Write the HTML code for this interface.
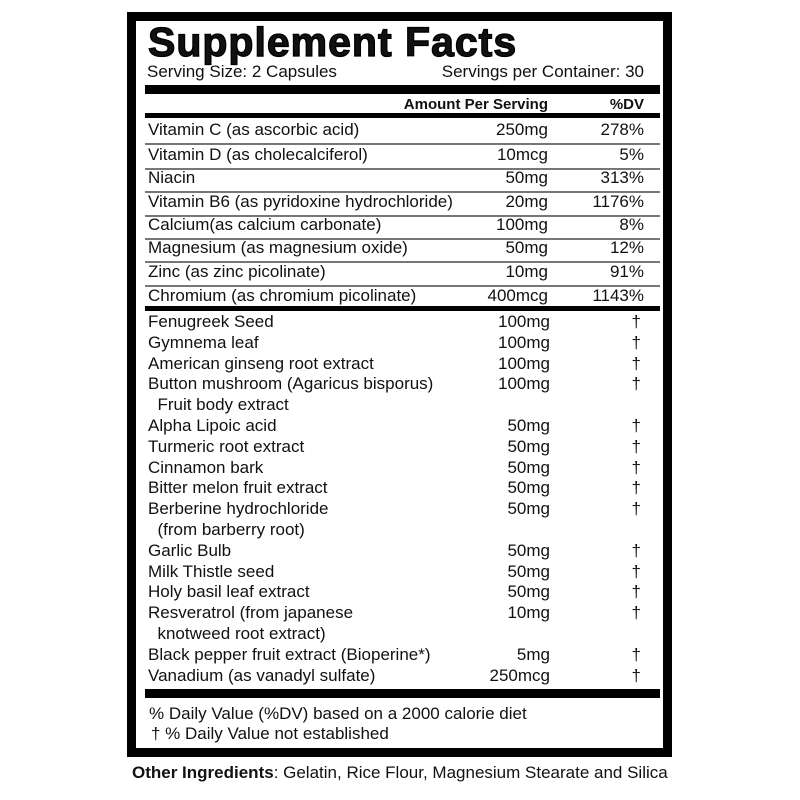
<!DOCTYPE html>
<html><head><meta charset="utf-8"><style>
body{margin:0;width:800px;height:800px;background:#fff;position:relative;overflow:hidden;font-family:"Liberation Sans",Arial,sans-serif;color:#111}
.box{position:absolute;left:127px;top:12px;width:527px;height:727px;border:9px solid #000;background:#fff}
.t{position:absolute;white-space:nowrap;font-size:17px;line-height:20px}
.r{position:absolute;white-space:nowrap;font-size:17px;line-height:20px;text-align:right}
.hl{position:absolute;left:145px;width:515px;background:#000}
.thin{position:absolute;left:145px;width:515px;height:2px;background:#777}
</style></head><body>
<div class="box"></div>
<div class="t" style="left:148px;top:18px;font-size:41px;line-height:48px;font-weight:bold;-webkit-text-stroke:1.3px #000;letter-spacing:1px">Supplement Facts</div>
<div class="t" style="left:147px;top:62px">Serving Size: 2 Capsules</div>
<div class="r" style="right:156px;top:62px">Servings per Container: 30</div>
<div class="hl" style="top:85px;height:9px"></div>
<div class="r" style="right:252px;top:95px;font-weight:bold;font-size:15px">Amount Per Serving</div>
<div class="r" style="right:156px;top:95px;font-weight:bold;font-size:15px">%DV</div>
<div class="hl" style="top:113px;height:5px"></div>
<div id="v"></div>
<div class="hl" style="top:306px;height:5px"></div>
<div class="hl" style="top:689px;height:9px"></div>
<div class="t" style="left:149px;top:704px">% Daily Value (%DV) based on a 2000 calorie diet</div>
<div class="t" style="left:151px;top:724px">† % Daily Value not established</div>
<div class="t" style="left:132px;top:763px"><b>Other Ingredients</b>: Gelatin, Rice Flour, Magnesium Stearate and Silica</div>
<script>
var v=[["Vitamin C (as ascorbic acid)","250mg","278%"],["Vitamin D (as cholecalciferol)","10mcg","5%"],["Niacin","50mg","313%"],["Vitamin B6 (as pyridoxine hydrochloride)","20mg","1176%"],["Calcium(as calcium carbonate)","100mg","8%"],["Magnesium (as magnesium oxide)","50mg","12%"],["Zinc (as zinc picolinate)","10mg","91%"],["Chromium (as chromium picolinate)","400mcg","1143%"]];
var h="";var ys=[130,155,178,202,225,248,272,296];
v.forEach(function(r,i){var y=ys[i]-10;h+='<div class="t" style="left:148px;top:'+y+'px">'+r[0]+'</div><div class="r" style="right:252px;top:'+y+'px">'+r[1]+'</div><div class="r" style="right:156px;top:'+y+'px">'+r[2]+'</div>';if(i<7)h+='<div class="thin" style="top:'+(ys[i]+13)+'px"></div>';});
var g=[["Fenugreek Seed","100mg",1],["Gymnema leaf","100mg",1],["American ginseng root extract","100mg",1],["Button mushroom (Agaricus bisporus)","100mg",1],["&nbsp;&nbsp;Fruit body extract","",0],["Alpha Lipoic acid","50mg",1],["Turmeric root extract","50mg",1],["Cinnamon bark","50mg",1],["Bitter melon fruit extract","50mg",1],["Berberine hydrochloride","50mg",1],["&nbsp;&nbsp;(from barberry root)","",0],["Garlic Bulb","50mg",1],["Milk Thistle seed","50mg",1],["Holy basil leaf extract","50mg",1],["Resveratrol (from japanese","10mg",1],["&nbsp;&nbsp;knotweed root extract)","",0],["Black pepper fruit extract (Bioperine*)","5mg",1],["Vanadium (as vanadyl sulfate)","250mcg",1]];
g.forEach(function(r,i){var y=Math.round(322+i*20.8)-10;h+='<div class="t" style="left:148px;top:'+y+'px">'+r[0]+'</div><div class="r" style="right:250px;top:'+y+'px">'+r[1]+'</div>';if(r[2])h+='<div class="r" style="right:159px;top:'+y+'px">†</div>';});
document.getElementById("v").innerHTML=h;
</script>
</body></html>
